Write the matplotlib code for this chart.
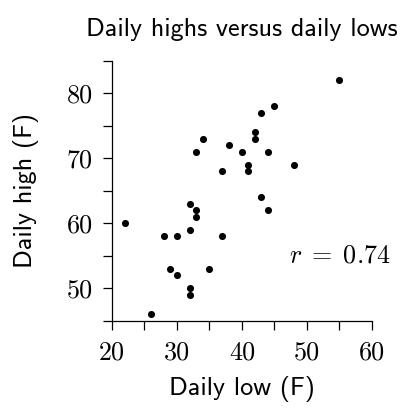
import matplotlib
matplotlib.use("Agg")
import matplotlib.pyplot as plt
from matplotlib.ticker import MultipleLocator

# Data
daily_low = [55, 45, 43, 42, 42, 34, 38, 33, 40, 44, 41, 48, 37, 41, 43,
             44, 32, 33, 33, 22, 32, 28, 30, 37, 29, 35, 30, 32, 32, 26]
daily_high = [82, 78, 77, 74, 73, 73, 72, 71, 71, 71, 69, 69, 68, 68, 64,
              62, 63, 62, 61, 60, 59, 58, 58, 58, 53, 53, 52, 50, 49, 46]
x_ticks = [20, 30, 40, 50, 60]
y_ticks = [50, 60, 70, 80]
x_tick_labels = ["20", "30", "40", "50", "60"]
y_tick_labels = ["50", "60", "70", "80"]
r_label = r"$r\;=\;0.74$"

plt.rcParams['mathtext.fontset'] = 'cm'
FS = 18.8

fig = plt.figure(figsize=(4.02, 4.11), dpi=100)
ax = fig.add_axes([111.7 / 402, (411 - 320.7) / 411, 260.3 / 402, 259.7 / 411])

ax.scatter(daily_low, daily_high, s=26, color='black', linewidths=0, zorder=3)

ax.set_xlim(20, 60)
ax.set_ylim(45, 85)
ax.spines['top'].set_visible(False)
ax.spines['right'].set_visible(False)
for sp in ('left', 'bottom'):
    ax.spines[sp].set_linewidth(0.9)

ax.xaxis.set_minor_locator(MultipleLocator(5))
ax.yaxis.set_minor_locator(MultipleLocator(5))
ax.set_xticks(x_ticks)
ax.set_yticks(y_ticks)
ax.set_xticklabels(x_tick_labels, fontfamily='cmr10', fontsize=FS)
ax.set_yticklabels(y_tick_labels, fontfamily='cmr10', fontsize=FS)
ax.tick_params(which='both', direction='out', length=6.5, width=0.9)
ax.tick_params(axis='x', which='major', pad=8)
ax.tick_params(axis='y', which='major', pad=7)

ax.set_xlabel("Daily low (F)", fontfamily='cmss10', fontsize=FS, labelpad=8)
ax.set_ylabel("Daily high (F)", fontfamily='cmss10', fontsize=FS, labelpad=20)
ax.set_title("Daily highs versus daily lows", fontfamily='cmss10', fontsize=FS, pad=18)

ax.text(55, 55, r_label, ha='center', va='center', fontsize=FS)

fig.savefig("out.png", dpi=100)
